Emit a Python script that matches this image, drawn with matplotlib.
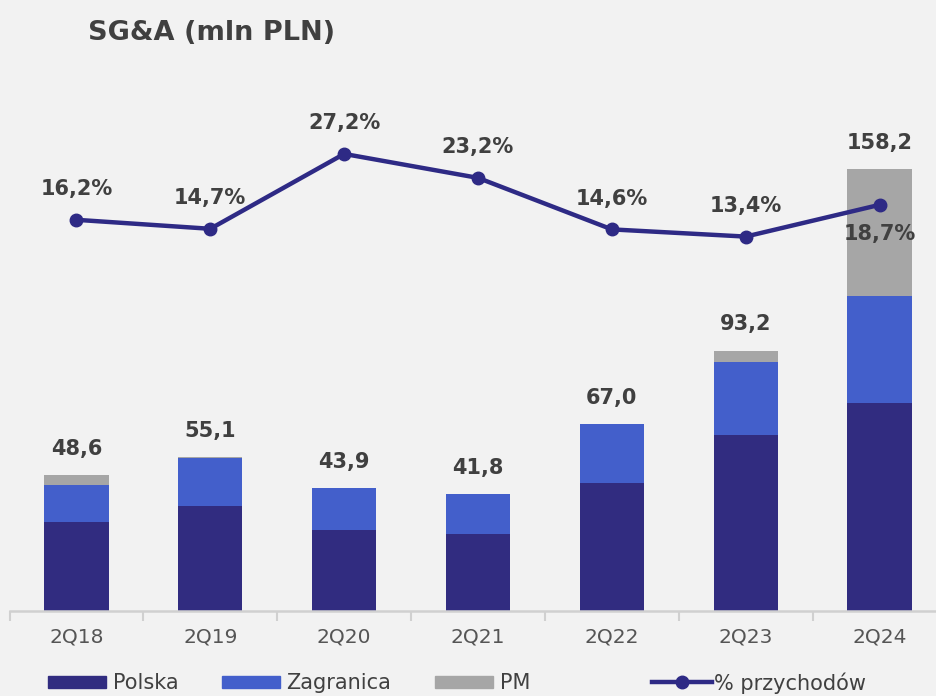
import numpy as np
from matplotlib import pyplot as plt
from matplotlib.lines import Line2D
from matplotlib.patches import Patch

plt.rcParams['font.family'] = ['DejaVu Sans']

quarters = ["2Q18", "2Q19", "2Q20", "2Q21", "2Q22", "2Q23", "2Q24"]
polska = [31.9, 37.7, 28.9, 27.5, 46.0, 63.1, 74.4]
zagranica = [13.3, 17.2, 15.0, 14.3, 21.0, 26.1, 38.5]
pm = [3.4, 0.2, 0.0, 0.0, 0.0, 4.0, 45.3]
totals = ["48,6", "55,1", "43,9", "41,8", "67,0", "93,2", "158,2"]
pct = [16.2, 14.7, 27.2, 23.2, 14.6, 13.4, 18.7]
pct_labels = ["16,2%", "14,7%", "27,2%", "23,2%", "14,6%", "13,4%", "18,7%"]

BG = "#F2F2F2"
C_POL = "#312C80"
C_ZAG = "#435FCB"
C_PM = "#A6A6A6"
C_LINE = "#2E2A85"
C_TXT = "#404040"

fig = plt.figure(figsize=(9.37, 6.96), dpi=100, facecolor=BG)
ax = fig.add_axes([9.5 / 937, 85 / 696, 937 / 937, 511 / 696])
ax.set_facecolor(BG)

x = np.arange(len(quarters))
w = 0.48
bottom2 = np.array(polska) + np.array(zagranica)
ax.bar(x, polska, w, color=C_POL, label="Polska")
ax.bar(x, zagranica, w, bottom=polska, color=C_ZAG, label="Zagranica")
ax.bar(x, pm, w, bottom=bottom2, color=C_PM, label="PM")

tops = bottom2 + np.array(pm)
for i, t in enumerate(tops):
    ax.annotate(totals[i], (x[i], t), xytext=(0, 19), textcoords="offset points",
                ha="center", va="center", fontsize=15, fontweight="bold", color=C_TXT)

ax.set_xlim(-0.5, 6.5)
ax.set_ylim(0, 183)
ax.set_yticks([])
ax.set_xticks(x)
ax.set_xticklabels(quarters, fontsize=14.5, color="#555555")
ax.set_xticks(np.arange(-0.5, 7.0, 1.0), minor=True)
ax.tick_params(axis="x", which="major", length=0, pad=12)
ax.tick_params(axis="x", which="minor", length=7, width=1.5, color="#D0D0D0", direction="out")
for s in ["top", "right", "left"]:
    ax.spines[s].set_visible(False)
ax.spines["bottom"].set_color("#D0D0D0")
ax.spines["bottom"].set_linewidth(1.8)

ax2 = ax.twinx()
ax2.set_ylim(-49.1, 36.2)
ax2.plot(x, pct, color=C_LINE, lw=3.2, marker="o", markersize=9, zorder=5)
ax2.axis("off")
for i, p in enumerate(pct):
    dy = -21 if i == 6 else 22
    ax2.annotate(pct_labels[i], (x[i], p), xytext=(0, dy), textcoords="offset points",
                 ha="center", va="center", fontsize=15, fontweight="bold", color=C_TXT)

fig.text(88 / 937, 1 - 33 / 696, "SG&A (mln PLN)", fontsize=19.5, fontweight="bold",
         color=C_TXT, va="center", ha="left")

bar_handles = [Patch(color=C_POL, label="Polska"),
               Patch(color=C_ZAG, label="Zagranica"),
               Patch(color=C_PM, label="PM")]
fig.legend(handles=bar_handles, loc="center left", bbox_to_anchor=(48 / 937, 13 / 696),
           ncol=3, frameon=False, fontsize=15, handlelength=2.8, handleheight=0.5,
           handletextpad=0.3, columnspacing=2.1, borderpad=0, borderaxespad=0,
           labelcolor="#404040")
line_handle = [Line2D([0], [0], color=C_LINE, lw=3.2, marker="o", markersize=9,
                      label="% przychodów")]
fig.legend(handles=line_handle, loc="center left", bbox_to_anchor=(652 / 937, 13 / 696),
           frameon=False, fontsize=15, handlelength=2.9, handletextpad=0.1,
           borderpad=0, borderaxespad=0, labelcolor="#404040")

fig.savefig("out.png", dpi=100, facecolor=BG)
